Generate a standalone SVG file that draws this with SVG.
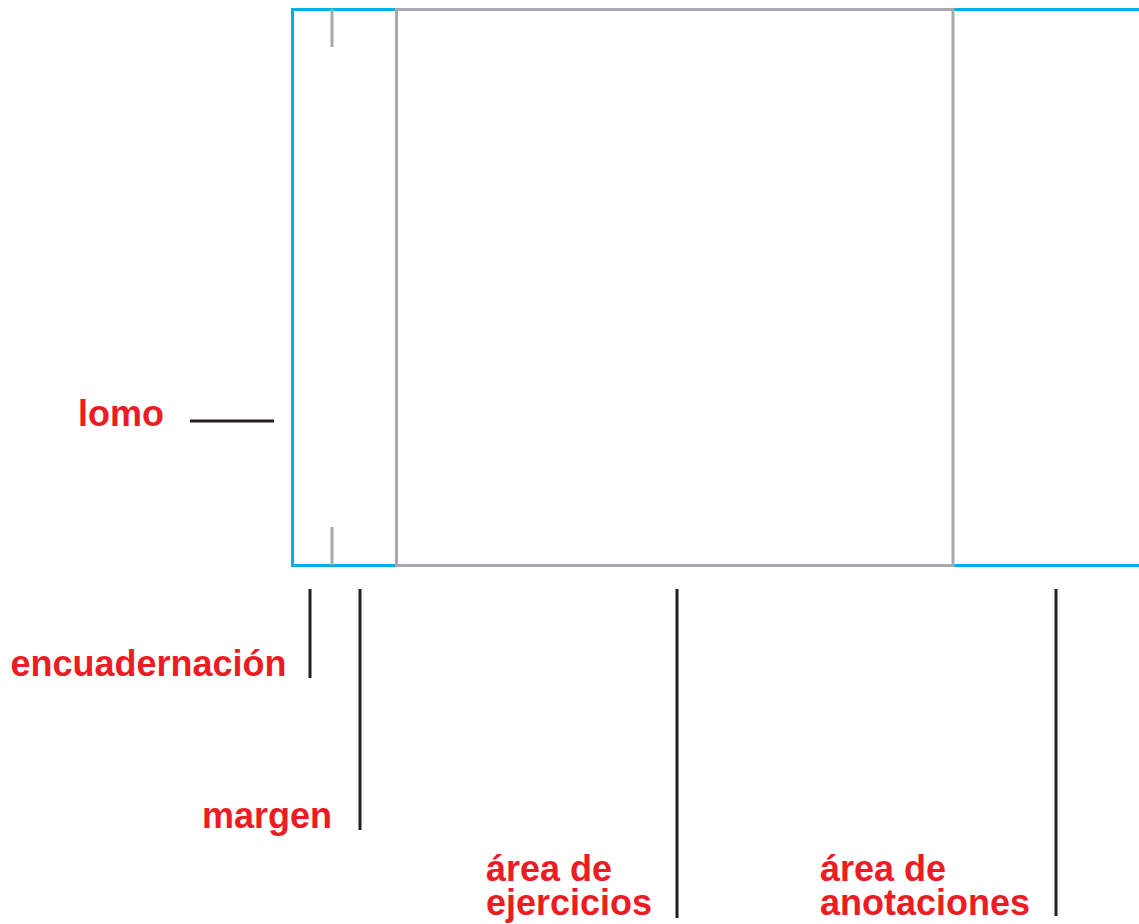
<svg xmlns="http://www.w3.org/2000/svg" width="1139" height="924" viewBox="0 0 1139 924">
<style>
.lbl{font-family:"Liberation Sans",Arial,sans-serif;font-weight:bold;font-size:36px;fill:#ed1c24}
.ld{stroke:#231f20;stroke-width:3;fill:none}
.gr{stroke:#a7a9ac;stroke-width:3;fill:none}
.bl{stroke:#00aeef;stroke-width:3;fill:none}
</style>
<rect width="1139" height="924" fill="#fff"/>
<g id="page">
<path class="bl" d="M1139,9.5 H292.5 V565.5 H1139"/>
<rect class="gr" x="396.5" y="9.5" width="556.5" height="556"/>
<line class="gr" x1="332" y1="9" x2="332" y2="47"/>
<line class="gr" x1="332" y1="527" x2="332" y2="565"/>
</g>
<g id="connectors">
<line class="ld" x1="190" y1="421" x2="274" y2="421"/>
<line class="ld" x1="310" y1="589" x2="310" y2="678"/>
<line class="ld" x1="360" y1="589" x2="360" y2="830"/>
<line class="ld" x1="677" y1="589" x2="677" y2="918"/>
<line class="ld" x1="1056" y1="589" x2="1056" y2="916"/>
</g>
<g id="lomo"><text class="lbl" x="78" y="426">lomo</text></g>
<g id="encuadernacion"><text class="lbl" x="10.5" y="676">encuadernación</text></g>
<g id="margen"><text class="lbl" x="202" y="828">margen</text></g>
<g id="area-ejercicios"><text class="lbl"><tspan x="486" y="881">área de</tspan><tspan x="486" y="915">ejercicios</tspan></text></g>
<g id="area-anotaciones"><text class="lbl"><tspan x="820" y="881">área de</tspan><tspan x="820" y="915">anotaciones</tspan></text></g>
</svg>
